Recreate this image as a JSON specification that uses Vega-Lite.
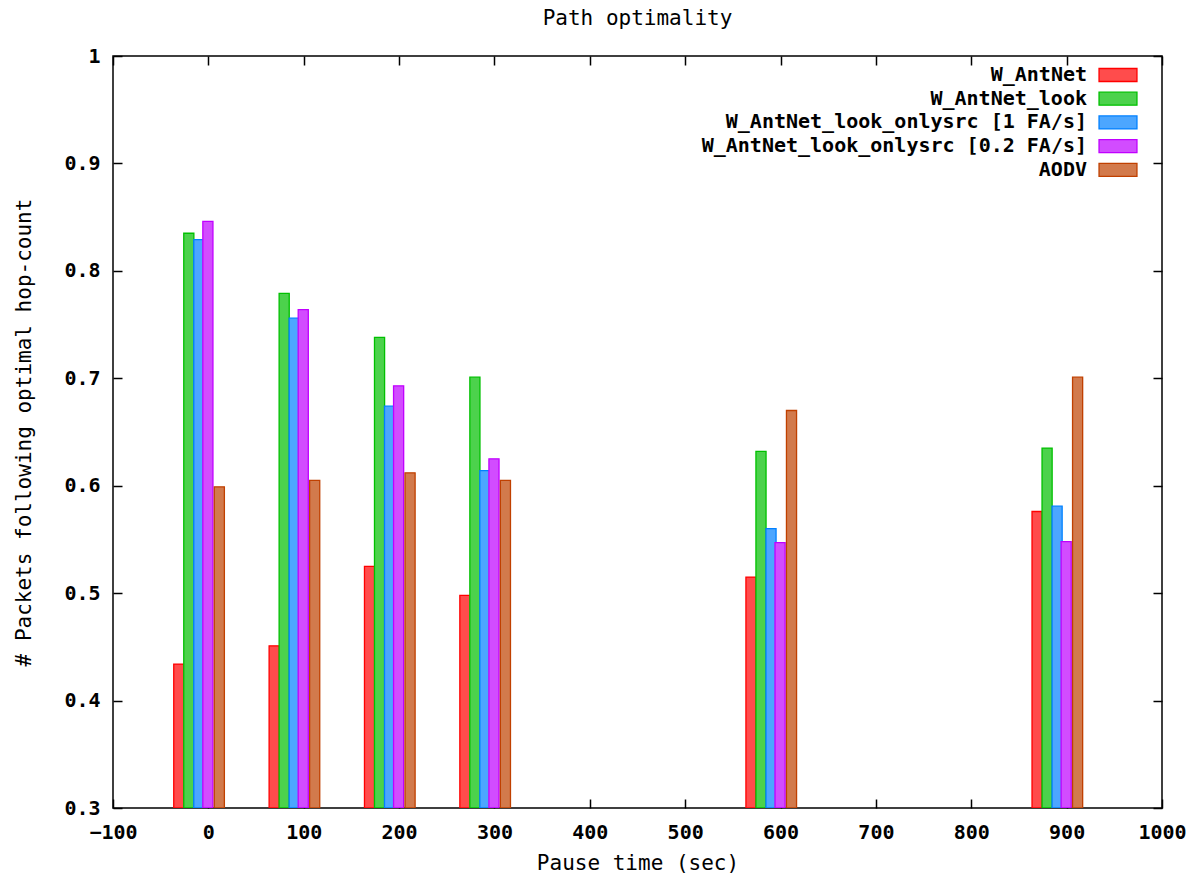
{
  "$schema": "https://vega.github.io/schema/vega-lite/v6.json",
  "width": 1049,
  "height": 752,
  "autosize": {"type": "none"},
  "padding": {"left": 113, "top": 56, "right": 41, "bottom": 75},
  "background": "#ffffff",
  "title": {"text": "Path optimality", "font": "DejaVu Sans Mono", "fontSize": 21, "fontWeight": "normal", "color": "#000000", "anchor": "middle", "frame": "group", "offset": 17},
  "config": {
    "view": {"stroke": "#000000", "strokeWidth": 1.5},
    "axis": {"labelFont": "DejaVu Sans Mono", "labelFontWeight": "bold", "labelFontSize": 20, "labelColor": "#000000", "titleFont": "DejaVu Sans Mono", "titleFontWeight": "normal", "titleFontSize": 21, "titleColor": "#000000", "grid": false, "domain": false, "tickColor": "#000000", "tickWidth": 1.5, "tickSize": 9, "offset": -9}
  },
  "data": {"values": [
    {"pause": 0, "series": "W_AntNet", "value": 0.434},
    {"pause": 0, "series": "W_AntNet_look", "value": 0.835},
    {"pause": 0, "series": "W_AntNet_look_onlysrc [1 FA/s]", "value": 0.829},
    {"pause": 0, "series": "W_AntNet_look_onlysrc [0.2 FA/s]", "value": 0.846},
    {"pause": 0, "series": "AODV", "value": 0.599},
    {"pause": 100, "series": "W_AntNet", "value": 0.451},
    {"pause": 100, "series": "W_AntNet_look", "value": 0.779},
    {"pause": 100, "series": "W_AntNet_look_onlysrc [1 FA/s]", "value": 0.756},
    {"pause": 100, "series": "W_AntNet_look_onlysrc [0.2 FA/s]", "value": 0.764},
    {"pause": 100, "series": "AODV", "value": 0.605},
    {"pause": 200, "series": "W_AntNet", "value": 0.525},
    {"pause": 200, "series": "W_AntNet_look", "value": 0.738},
    {"pause": 200, "series": "W_AntNet_look_onlysrc [1 FA/s]", "value": 0.674},
    {"pause": 200, "series": "W_AntNet_look_onlysrc [0.2 FA/s]", "value": 0.693},
    {"pause": 200, "series": "AODV", "value": 0.612},
    {"pause": 300, "series": "W_AntNet", "value": 0.498},
    {"pause": 300, "series": "W_AntNet_look", "value": 0.701},
    {"pause": 300, "series": "W_AntNet_look_onlysrc [1 FA/s]", "value": 0.614},
    {"pause": 300, "series": "W_AntNet_look_onlysrc [0.2 FA/s]", "value": 0.625},
    {"pause": 300, "series": "AODV", "value": 0.605},
    {"pause": 600, "series": "W_AntNet", "value": 0.515},
    {"pause": 600, "series": "W_AntNet_look", "value": 0.632},
    {"pause": 600, "series": "W_AntNet_look_onlysrc [1 FA/s]", "value": 0.560},
    {"pause": 600, "series": "W_AntNet_look_onlysrc [0.2 FA/s]", "value": 0.547},
    {"pause": 600, "series": "AODV", "value": 0.670},
    {"pause": 900, "series": "W_AntNet", "value": 0.576},
    {"pause": 900, "series": "W_AntNet_look", "value": 0.635},
    {"pause": 900, "series": "W_AntNet_look_onlysrc [1 FA/s]", "value": 0.581},
    {"pause": 900, "series": "W_AntNet_look_onlysrc [0.2 FA/s]", "value": 0.548},
    {"pause": 900, "series": "AODV", "value": 0.701}
  ]},
  "transform": [
    {"calculate": "{'W_AntNet': -31, 'W_AntNet_look': -20.5, 'W_AntNet_look_onlysrc [1 FA/s]': -10, 'W_AntNet_look_onlysrc [0.2 FA/s]': -0.5, 'AODV': 11.5}[datum.series]", "as": "off"},
    {"calculate": "datum.pause + datum.off - 5.3", "as": "x0"},
    {"calculate": "datum.pause + datum.off + 5.3", "as": "x1"}
  ],
  "layer": [
    {
      "mark": {"type": "bar", "strokeWidth": 1.3, "clip": true},
      "encoding": {
        "x": {"field": "x0", "type": "quantitative", "scale": {"domain": [-100, 1000], "nice": false, "zero": false},
              "axis": {"orient": "bottom", "values": [-100, 0, 100, 200, 300, 400, 500, 600, 700, 800, 900, 1000], "format": "d", "title": "Pause time (sec)", "labelPadding": 14, "titlePadding": 10, "labelFlush": false}},
        "x2": {"field": "x1"},
        "y": {"field": "value", "type": "quantitative", "scale": {"domain": [0.3, 1], "nice": false, "zero": false},
              "axis": {"orient": "left", "values": [0.3, 0.4, 0.5, 0.6, 0.7, 0.8, 0.9, 1], "format": "~g", "title": "# Packets following optimal hop-count", "labelPadding": 13, "titlePadding": 29, "labelFlush": false}},
        "y2": {"datum": 0.3},
        "fill": {"field": "series", "type": "nominal", "title": null,
                  "scale": {"domain": ["W_AntNet", "W_AntNet_look", "W_AntNet_look_onlysrc [1 FA/s]", "W_AntNet_look_onlysrc [0.2 FA/s]", "AODV"], "range": ["#ff4c4c", "#4cd24c", "#4ca6ff", "#d24cff", "#d27a4c"]},
                  "legend": {"orient": "none", "legendX": 992, "legendY": 6, "symbolType": "M-1.58,-0.54H1.58V0.54H-1.58Z", "symbolSize": 576, "symbolStrokeWidth": 1.3, "labelAlign": "right", "labelOffset": -44, "rowPadding": 0.7, "symbolOpacity": 1, "labelLimit": 0, "labelFont": "DejaVu Sans Mono", "labelFontWeight": "bold", "labelFontSize": 20, "labelColor": "#000000"}},
        "stroke": {"field": "series", "type": "nominal", "title": null,
                  "scale": {"domain": ["W_AntNet", "W_AntNet_look", "W_AntNet_look_onlysrc [1 FA/s]", "W_AntNet_look_onlysrc [0.2 FA/s]", "AODV"], "range": ["#ff0000", "#00c000", "#0080ff", "#c000ff", "#c04000"]}}
      }
    },
    {
      "mark": {"type": "bar", "opacity": 0},
      "encoding": {
        "x": {"field": "x0", "type": "quantitative", "axis": {"orient": "top", "values": [-100, 0, 100, 200, 300, 400, 500, 600, 700, 800, 900, 1000], "labels": false, "title": null}},
        "x2": {"field": "x1"},
        "y": {"field": "value", "type": "quantitative", "axis": {"orient": "right", "values": [0.3, 0.4, 0.5, 0.6, 0.7, 0.8, 0.9, 1], "labels": false, "title": null}},
        "y2": {"datum": 0.3}
      }
    }
  ],
  "resolve": {"axis": {"x": "independent", "y": "independent"}}
}
